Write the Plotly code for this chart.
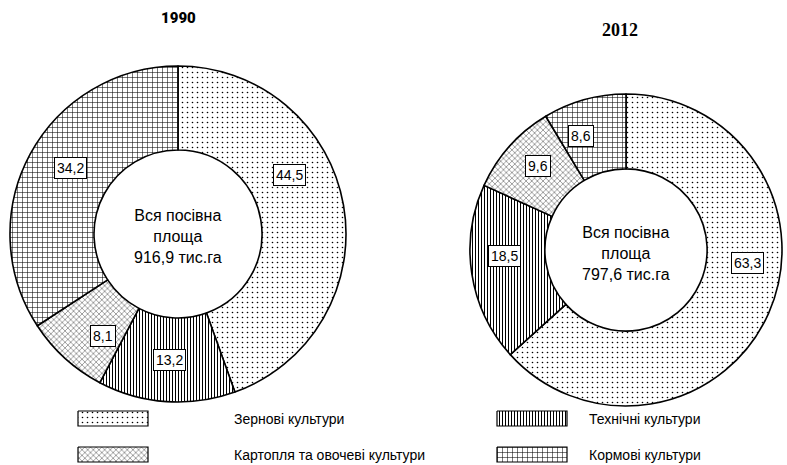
import math
import plotly.graph_objects as go

# ---- data ----
categories = ["Зернові культури", "Технічні культури",
              "Картопля та овочеві культури", "Кормові культури"]
values_1990 = [44.5, 13.2, 8.1, 34.2]
values_2012 = [63.3, 18.5, 9.6, 8.6]
total_1990 = "916,9"
total_2012 = "797,6"
years = ["1990", "2012"]

# ---- style ----
W, H = 787, 465
patterns = [
    dict(shape=".", size=5, solidity=0.08),
    dict(shape="|", size=3, solidity=0.35),
    dict(shape="x", size=4, solidity=0.18),
    dict(shape="+", size=5, solidity=0.2),
]
# pie geometry in pixels: center x, center y, radius, hole
geo = [dict(cx=178, cy=234, r=168, hole=0.50),
       dict(cx=626, cy=250, r=156, hole=0.52)]
label_angle_offset = [[-18, 0, -6, 3], [-18, 6, 2, -6]]
label_radius = [126, 122]


def fmt(v):
    return f"{v:.1f}".replace(".", ",")


fig = go.Figure()
annotations = []

for k, (vals, g) in enumerate(zip([values_1990, values_2012], geo)):
    dom_x = [(g["cx"] - g["r"]) / W, (g["cx"] + g["r"]) / W]
    dom_y = [(H - g["cy"] - g["r"]) / H, (H - g["cy"] + g["r"]) / H]
    fig.add_trace(go.Pie(
        labels=categories, values=vals, sort=False, direction="clockwise",
        rotation=0, hole=g["hole"], textinfo="none", hoverinfo="label+value",
        domain=dict(x=dom_x, y=dom_y), showlegend=False,
        marker=dict(colors=["white"] * 4,
                    line=dict(color="black", width=1.6),
                    pattern=dict(shape=[p["shape"] for p in patterns],
                                 size=[p["size"] for p in patterns],
                                 solidity=[p["solidity"] for p in patterns],
                                 fgcolor="black", bgcolor="white",
                                 fillmode="replace")),
    ))
    # value labels in boxes
    total = sum(vals)
    cum = 0
    for i, v in enumerate(vals):
        mid = (cum + v / 2) / total * 360 + label_angle_offset[k][i]
        cum += v
        a = math.radians(mid)
        x = g["cx"] + label_radius[k] * math.sin(a)
        y = g["cy"] - label_radius[k] * math.cos(a)
        annotations.append(dict(
            x=x / W, y=1 - y / H, xref="paper", yref="paper",
            xanchor="center", yanchor="middle",
            text=fmt(v), showarrow=False,
            font=dict(family="Liberation Sans", size=14, color="black"),
            bgcolor="white", bordercolor="black", borderwidth=1, borderpad=2,
        ))
    # centre text
    tot = total_1990 if k == 0 else total_2012
    annotations.append(dict(
        x=g["cx"] / W, y=1 - (g["cy"] + 3) / H, xref="paper", yref="paper",
        xanchor="center", yanchor="middle",
        text=f"Вся посівна<br>площа<br>{tot} тис.га", showarrow=False,
        font=dict(family="Liberation Sans", size=16, color="black"),
    ))

# titles
annotations.append(dict(x=178 / W, y=1 - 18 / H, xref="paper", yref="paper",
                        xanchor="center", yanchor="middle",
                        text=years[0], showarrow=False,
                        font=dict(family="Roboto, sans-serif", size=15, color="black",
                                  weight=900)))
annotations.append(dict(x=620 / W, y=1 - 30 / H, xref="paper", yref="paper",
                        xanchor="center", yanchor="middle",
                        text=years[1], showarrow=False,
                        font=dict(family="Liberation Serif", size=18, color="black",
                                  weight="bold")))

# legend swatches drawn on a hidden pixel axis
legend_pos = [(78, 411, 232), (497, 411, 587), (78, 447, 232), (497, 447, 587)]
for i, (x0, y0, tx) in enumerate(legend_pos):
    p = patterns[i]
    fig.add_trace(go.Scatter(
        x=[x0, x0 + 70, x0 + 70, x0, x0], y=[y0, y0, y0 + 15, y0 + 15, y0],
        mode="lines", fill="toself", fillcolor="white",
        line=dict(color="black", width=1.2),
        fillpattern=dict(shape=p["shape"], size=p["size"], solidity=p["solidity"],
                         fgcolor="black", bgcolor="white", fillmode="replace"),
        showlegend=False, hoverinfo="skip",
    ))
    annotations.append(dict(x=tx, y=y0 + 7.5, xref="x", yref="y",
                            text=categories[i], showarrow=False,
                            xanchor="left", yanchor="middle",
                            font=dict(family="Liberation Sans", size=14, color="black")))

fig.update_layout(
    width=W, height=H, margin=dict(l=0, r=0, t=0, b=0),
    paper_bgcolor="white", plot_bgcolor="rgba(0,0,0,0)",
    xaxis=dict(range=[0, W], visible=False, domain=[0, 1], fixedrange=True),
    yaxis=dict(range=[H, 0], visible=False, domain=[0, 1], fixedrange=True),
    annotations=annotations, showlegend=False,
)

fig.write_html("out.html", config={"displayModeBar": False},
               post_script="document.body.style.margin='0px';")
